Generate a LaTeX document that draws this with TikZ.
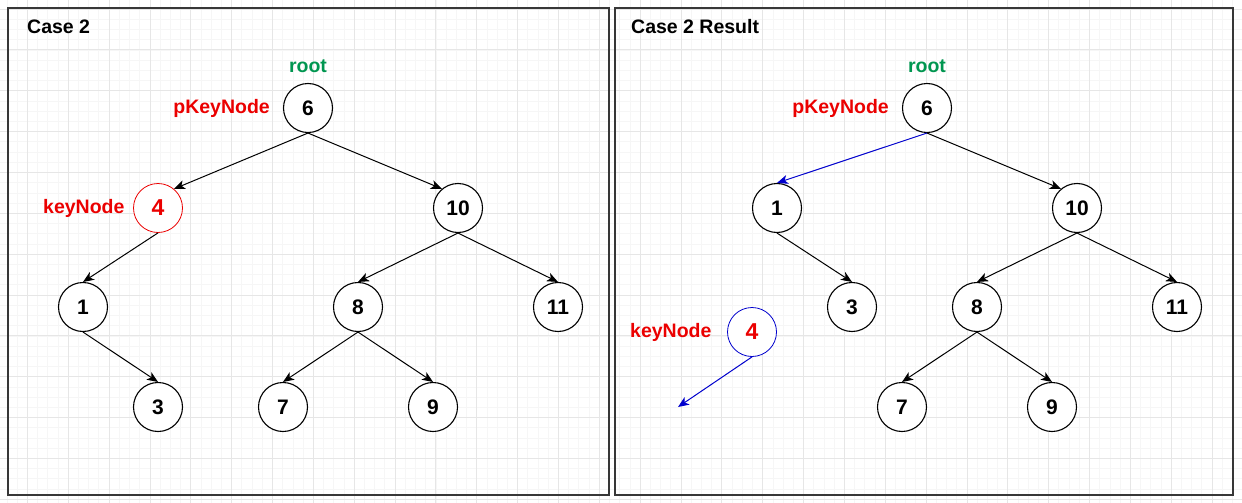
\documentclass[tikz,border=0pt]{standalone}
\usepackage{fontspec}
\setmainfont{Liberation Sans}
\usetikzlibrary{arrows.meta}
\definecolor{gridminor}{RGB}{246,246,246}
\definecolor{gridmajor}{RGB}{230,230,230}
\definecolor{panelline}{RGB}{55,55,55}
\definecolor{lblred}{RGB}{235,0,0}
\definecolor{lblgreen}{RGB}{0,150,80}
\definecolor{edgeblue}{RGB}{0,0,205}
\tikzset{
  tn/.style={circle, draw=black, line width=1.1pt, minimum size=49pt, inner sep=0pt, fill=white,
             font=\bfseries\fontsize{21}{25}\selectfont},
  rednode/.style={tn, draw=lblred, line width=0.8pt, text=lblred, font=\bfseries\fontsize{23}{27}\selectfont},
  bluenode/.style={tn, draw=edgeblue, line width=0.8pt, text=lblred, font=\bfseries\fontsize{23}{27}\selectfont},
  lbl/.style={font=\bfseries\fontsize{19.5}{23}\selectfont, inner sep=0pt},
  title/.style={lbl, anchor=west},
  arr/.style={-{Stealth[length=11pt,width=9pt,inset=3pt]}, line width=1pt, black},
  barr/.style={arr, edgeblue},
  panel/.style={draw=panelline, line width=1.8pt}
}
\begin{document}
\begin{tikzpicture}[x=1pt,y=-1pt]
\useasboundingbox (0,0) rectangle (1242,503);
\fill[white] (0,0) rectangle (1242,503);
% grid
\foreach \i in {-3,...,119} {\draw[gridminor, line width=0.6pt] ({27.3+10.2125*\i},0) -- ({27.3+10.2125*\i},503);}
\foreach \i in {0,...,49} {\draw[gridminor, line width=0.6pt] (0,{9+10.2125*\i}) -- (1242,{9+10.2125*\i});}
\foreach \i in {-1,...,30} {\draw[gridmajor, line width=0.7pt] ({27.3+40.85*\i},0) -- ({27.3+40.85*\i},503);}
\foreach \i in {0,...,12} {\draw[gridmajor, line width=0.7pt] (0,{9+40.85*\i}) -- (1242,{9+40.85*\i});}
% panels
\draw[panel] (8,8) rectangle (609,495);
\draw[panel] (615,8) rectangle (1233,495);
\node[title] (t1) at (27,27) {Case 2};
\node[title] (t2) at (631,27) {Case 2 Result};

% left tree
\node[tn] (L6) at (308,108) {6};
\node[rednode] (L4) at (158,208) {4};
\node[tn] (L10) at (458,208) {10};
\node[tn] (L1) at (83,307) {1};
\node[tn] (L8) at (358,307) {8};
\node[tn] (L11) at (558,307) {11};
\node[tn] (L3) at (158,407) {3};
\node[tn] (L7) at (283,407) {7};
\node[tn] (L9) at (433,407) {9};
\node[lbl, text=lblgreen] (Lroot) at (308,66) {root};
\node[lbl, text=lblred, anchor=east] (Lpk) at (270,108) {pKeyNode};
\node[lbl, text=lblred, anchor=west] (Lk) at (43,208) {keyNode};

\draw[arr] (L6.south) -- (L4.50);
\draw[arr] (L6.south) -- (L10.130);
\draw[arr] (L4.south) -- (L1.north);
\draw[arr] (L1.south) -- (L3.north);
\draw[arr] (L10.south) -- (L8.north);
\draw[arr] (L10.south) -- (L11.north);
\draw[arr] (L8.south) -- (L7.north);
\draw[arr] (L8.south) -- (L9.north);

% right tree
\node[tn] (R6) at (927,108) {6};
\node[tn] (R1) at (777,208) {1};
\node[tn] (R10) at (1077,208) {10};
\node[tn] (R3) at (852,307) {3};
\node[tn] (R8) at (977,307) {8};
\node[tn] (R11) at (1177,307) {11};
\node[bluenode] (R4) at (752,332) {4};
\node[tn] (R7) at (902,407) {7};
\node[tn] (R9) at (1052,407) {9};
\node[lbl, text=lblgreen] (Rroot) at (927,66) {root};
\node[lbl, text=lblred, anchor=east] (Rpk) at (889,108) {pKeyNode};
\node[lbl, text=lblred, anchor=west] (Rk) at (630,332) {keyNode};
\coordinate (Rfree) at (678,407);

\draw[barr] (R6.south) -- (R1.north);
\draw[arr] (R6.south) -- (R10.130);
\draw[arr] (R1.south) -- (R3.north);
\draw[arr] (R10.south) -- (R8.north);
\draw[arr] (R10.south) -- (R11.north);
\draw[arr] (R8.south) -- (R7.north);
\draw[arr] (R8.south) -- (R9.north);
\draw[barr] (R4.south) -- (Rfree);
\end{tikzpicture}
\end{document}
